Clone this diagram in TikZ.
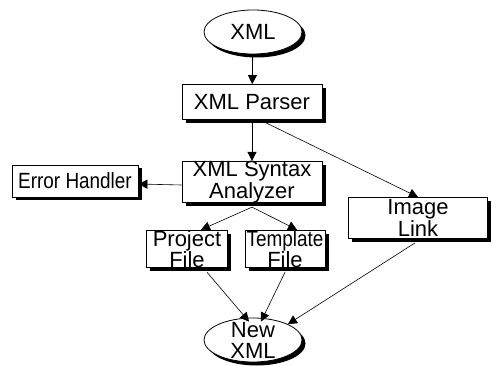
\documentclass[tikz,border=0pt]{standalone}
\usepackage{fontspec}
\setmainfont{Liberation Sans}
\newfontfamily\narrowfont{Liberation Sans}[FakeStretch=0.86]
\usetikzlibrary{arrows.meta,shapes.geometric,shadows}
\tikzset{
  blk/.style={draw, thick, fill=white, align=center, inner sep=0pt,
    font=\fontsize{22}{19}\selectfont,
    drop shadow={fill=black, opacity=1, shadow xshift=3.5pt, shadow yshift=-3.5pt}},
  oval/.style={blk, ellipse, minimum width=98pt, minimum height=44pt},
  flow/.style={-{Triangle[length=9pt,width=9pt]}, semithick},
}
\begin{document}
\begin{tikzpicture}[x=1pt,y=-1pt]
      \useasboundingbox (0,0) rectangle (493,366);
      % boxes
      \node[oval] (xml) at (253,32) {XML};
      \node[blk, minimum width=140pt, minimum height=35pt] (parser) at (252,102) {XML Parser};
      \node[blk, minimum width=140pt, minimum height=41pt] (analyzer) at (252,182) {XML Syntax\\Analyzer};
      \node[blk, minimum width=126pt, minimum height=32pt] (error) at (75,181) {\narrowfont Error Handler};
      \node[blk, minimum width=139pt, minimum height=41pt] (image) at (418,218) {Image\\Link};
      \node[blk, minimum width=81pt, minimum height=34pt] (project) at (187,249) {Project\\File};
      \node[blk, minimum width=80pt, minimum height=34pt] (template) at (285,249) {\narrowfont Template\\File};
      \node[oval, inner xsep=-4pt, inner ysep=-9pt, font=\fontsize{22}{21}\selectfont] (newxml) at (253,340) {New\\XML};
      % arrows
      \draw[flow, thick] (xml) -- (parser);
      \draw[flow] (parser) -- (analyzer);
      \draw[flow] ([xshift=8pt]parser.south) -- (image.north);
      \draw[flow] ([yshift=-3pt]analyzer.west) -- ([yshift=-3pt]error.east);
      \draw[flow] ([yshift=-4pt]analyzer.south) -- ([xshift=14pt]project.north);
      \draw[flow] ([yshift=-4pt]analyzer.south) -- ([xshift=12pt]template.north);
      \draw[flow] ([xshift=20pt,yshift=-4pt]project.south) -- ([xshift=-4pt,yshift=-4pt]newxml.north);
      \draw[flow] ([yshift=-4pt]template.south) -- ([xshift=8pt,yshift=-4pt]newxml.north);
      \draw[flow] ([xshift=-3pt,yshift=-4pt]image.south) -- (newxml.north east);
   \end{tikzpicture}
\end{document}
